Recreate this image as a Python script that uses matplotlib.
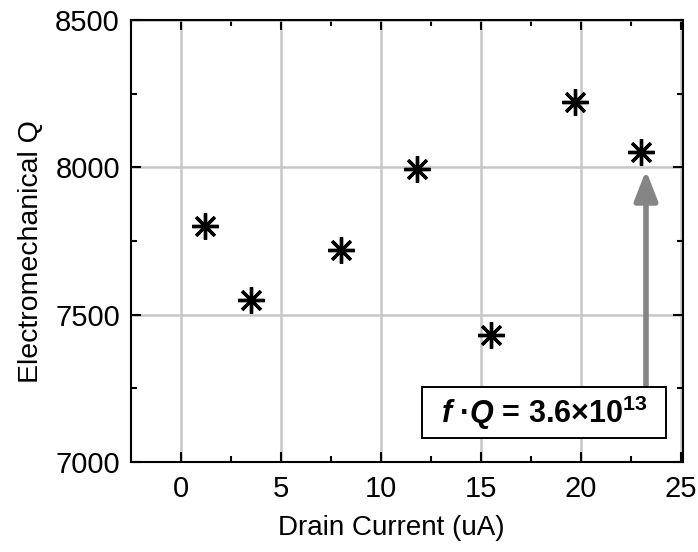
import matplotlib
matplotlib.use("Agg")
import matplotlib.pyplot as plt
from matplotlib.patches import Rectangle
from matplotlib.ticker import MultipleLocator

# data
drain_current = [1.2, 3.5, 8.0, 11.8, 15.5, 19.7, 23.0]
quality_factor = [7800, 7550, 7720, 7993, 7430, 8222, 8052]
arrow_x = 23.25
arrow_y = [7255, 7990]
note_box = (12.05, 7082, 12.2, 173)   # x, y, width, height in data units
note_text = r"$\mathbfit{f}$ ·$\mathbfit{Q}$ = 3.6×10$^{\mathbf{13}}$"

plt.rcParams["font.family"] = ["Liberation Sans", "DejaVu Sans"]
plt.rcParams["mathtext.fontset"] = "custom"
plt.rcParams["mathtext.rm"] = "Liberation Sans"
plt.rcParams["mathtext.it"] = "Liberation Sans:italic"
plt.rcParams["mathtext.bf"] = "Liberation Sans:bold"
plt.rcParams["mathtext.bfit"] = "Liberation Sans:bold:italic"

fig = plt.figure(figsize=(6.98, 5.52), dpi=100)
ax = fig.add_axes([0.1877, 0.163, 0.7908, 0.8008])

ax.grid(True, color="#c6c6c6", lw=1.8, zorder=0)
ax.set_axisbelow(True)

ax.plot(drain_current, quality_factor, ls="none", marker=(8, 2, 0),
        ms=19, mew=2.4, color="black", zorder=3)

ax.annotate("", xy=(arrow_x, arrow_y[1]), xytext=(arrow_x, arrow_y[0]),
            arrowprops=dict(arrowstyle="-|>,head_width=0.35,head_length=0.9",
                            color="#858585", lw=4, mutation_scale=20,
                            shrinkA=0, shrinkB=0),
            zorder=2)

bx, by, bw, bh = note_box
ax.add_patch(Rectangle((bx, by), bw, bh, facecolor="white", edgecolor="black",
                       lw=1.4, zorder=4))
ax.text(bx + bw / 2, by + bh / 2, note_text, ha="center", va="center",
        fontsize=22, fontweight="bold", zorder=5)

ax.set_xlim(-2.5, 25.1)
ax.set_ylim(7000, 8500)
ax.xaxis.set_major_locator(MultipleLocator(5))
ax.xaxis.set_minor_locator(MultipleLocator(2.5))
ax.yaxis.set_major_locator(MultipleLocator(500))
ax.yaxis.set_minor_locator(MultipleLocator(250))

ax.tick_params(which="both", direction="in", top=True, right=True,
               width=1.5, labelsize=21, pad=8)
ax.tick_params(axis="x", pad=9)
ax.tick_params(which="major", length=7)
ax.tick_params(which="minor", length=4)

for spine in ax.spines.values():
    spine.set_linewidth(1.5)
    spine.set_color("black")

ax.set_xlabel("Drain Current (uA)", fontsize=20)
ax.set_ylabel("Electromechanical Q", fontsize=20.5)
ax.xaxis.set_label_coords(0.471, -0.12)
ax.yaxis.set_label_coords(-0.158, 0.477)

fig.savefig("out.png", dpi=100)
